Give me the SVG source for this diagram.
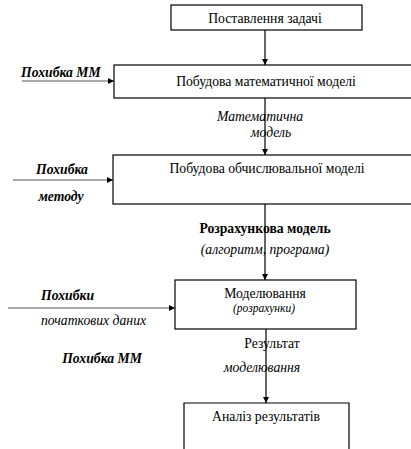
<svg xmlns="http://www.w3.org/2000/svg" width="411" height="449" viewBox="0 0 411 449" font-family="'Liberation Serif', 'Times New Roman', serif">
<style>
.box{fill:#fff;stroke:#000;stroke-width:1.2}
.ln{stroke:#000;stroke-width:1.2;fill:none}
.gl{stroke:#555;stroke-width:1.2;fill:none}
text{font-size:13.7px;fill:#000}
.c{text-anchor:middle}
.i{font-style:italic}
.bi{font-style:italic;font-weight:bold}
.b{font-weight:bold}
.s{font-size:11.5px}
</style>
<defs>
<marker id="ah" viewBox="0 0 10 10" refX="10" refY="5" markerWidth="6" markerHeight="6" markerUnits="userSpaceOnUse" orient="auto">
<path d="M0,0 L10,5 L0,10 z" fill="#000"/>
</marker>
</defs>
<g id="connectors">
<line class="ln" x1="265" y1="30" x2="265" y2="65" marker-end="url(#ah)"/>
<line class="ln" x1="265" y1="98" x2="265" y2="155" marker-end="url(#ah)"/>
<line class="ln" x1="265" y1="204" x2="265" y2="280" marker-end="url(#ah)"/>
<line class="ln" x1="266" y1="329" x2="266" y2="403" marker-end="url(#ah)"/>
<line class="gl" x1="22" y1="81" x2="114" y2="81" marker-end="url(#ah)"/>
<line class="gl" x1="13" y1="180" x2="113" y2="180" marker-end="url(#ah)"/>
<line class="gl" x1="8" y1="308" x2="175" y2="308" marker-end="url(#ah)"/>
</g>
<g id="n1">
<rect class="box" x="171" y="5" width="191" height="25"/>
<text class="c" x="265" y="23">Поставлення задачі</text>
</g>
<g id="n2">
<rect class="box" x="114" y="65" width="310" height="33"/>
<text class="c" x="266" y="86">Побудова математичної моделі</text>
</g>
<g id="n3">
<rect class="box" x="113" y="155" width="310" height="49"/>
<text class="c" x="267" y="173">Побудова обчислювальної моделі</text>
</g>
<g id="n4">
<rect class="box" x="175" y="280" width="181" height="49"/>
<text class="c" x="265" y="298">Моделювання</text>
<text class="c i s" x="264" y="312">(розрахунки)</text>
</g>
<g id="n5">
<path class="box" d="M184,452 V403 H349 V452"/>
<text class="c" x="266" y="421">Аналіз результатів</text>
</g>
<g id="labels">
<text class="bi" x="21" y="77">Похибка ММ</text>
<text class="c i" x="260" y="121">Математична</text>
<text class="c i" x="271" y="137">модель</text>
<text class="c bi" x="62" y="174">Похибка</text>
<text class="c bi" x="61" y="201">методу</text>
<text class="c b" x="265" y="233">Розрахункова модель</text>
<text class="c i" x="265" y="254">(алгоритм, програма)</text>
<text class="bi" x="41" y="300">Похибки</text>
<text class="i" x="41" y="325">початкових даних</text>
<text class="c" x="272" y="348">Результат</text>
<text class="c i" x="262" y="372">моделювання</text>
<text class="c bi" x="102" y="363">Похибка ММ</text>
</g>
</svg>
